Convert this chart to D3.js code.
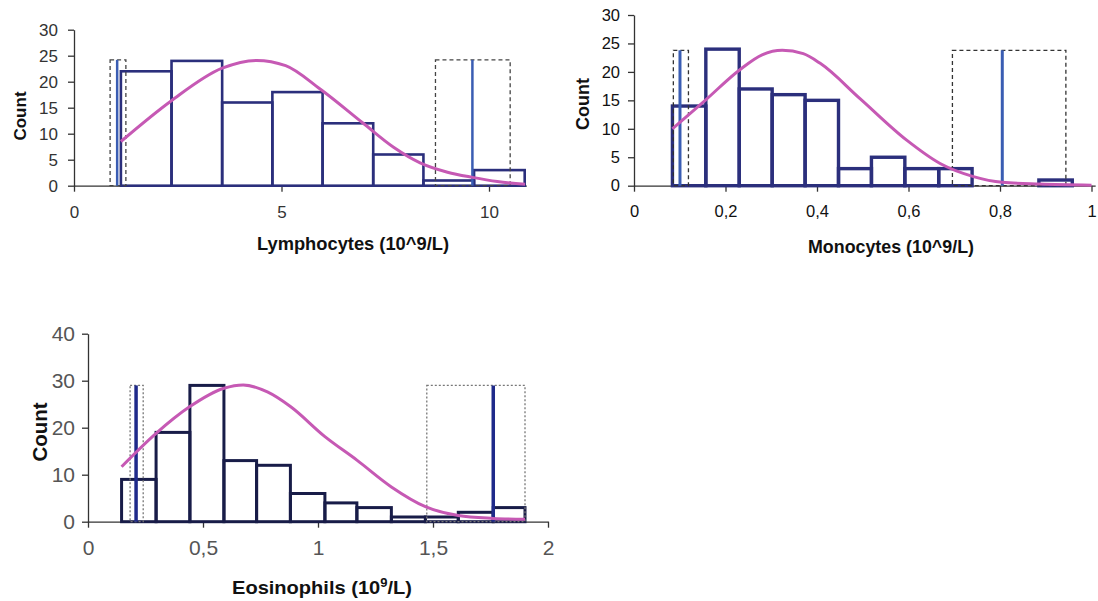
<!DOCTYPE html>
<meta charset="utf-8">
<style>
body { margin: 0; background: #fff; }
svg { display: block; }
.axis path, .axis line { stroke: #333; stroke-width: 1.3; }
.axis text { font-family: Arial, "Liberation Sans", sans-serif; }
.title { font-family: Arial, "Liberation Sans", sans-serif; font-weight: bold; fill: #111; }
</style>
<body>
<script src="https://d3js.org/d3.v7.min.js"></script>
<script>

// ---- Lymphocytes ----
var lymphEdges  = [1.13, 2.35, 3.57, 4.78, 5.99, 7.21, 8.42, 9.64, 10.86];
var lymphCounts = [22, 24, 16, 18, 12, 6, 1, 3];
var lymphCurve  = [[1.13, 8.5], [2.34, 16.3], [3.57, 22.6], [4.4, 24.1], [5.1, 23.1],
                   [5.93, 18.6], [6.97, 12], [7.7, 7.4], [8.34, 4.4], [9, 2.6], [9.6, 1.6], [10.2, 0.8], [10.87, 0.3]];
var lymphBoxes  = [[0.87, 1.25], [8.71, 10.51]];
var lymphLines  = [1.04, 9.6];
var lymphBoxTop = 24.2;
var lymphXTicks = [0, 5, 10];
var lymphYTicks = [0, 5, 10, 15, 20, 25, 30];

// ---- Monocytes ----
var monoEdges  = [0.084, 0.157, 0.230, 0.302, 0.374, 0.447, 0.519, 0.592, 0.666, 0.739, 0.812, 0.885, 0.958];
var monoCounts = [14, 24, 17, 16, 15, 3, 5, 3, 3, 0, 0, 1];
var monoCurve  = [[0.084, 10], [0.157, 15.1], [0.23, 20.3], [0.28, 23], [0.324, 23.8], [0.37, 23.2], [0.407, 21.5],
                  [0.494, 15.3], [0.596, 8], [0.669, 3.9], [0.742, 1.6],
                  [0.805, 0.6], [0.887, 0.3], [1.0, 0.1]];
var monoBoxes  = [[0.086, 0.119], [0.696, 0.944]];
var monoLines  = [0.1005, 0.805];
var monoBoxTop = 23.8;
var monoXTicks = [0, 0.2, 0.4, 0.6, 0.8, 1];
var monoYTicks = [0, 5, 10, 15, 20, 25, 30];

// ---- Eosinophils ----
var eosEdges  = [0.146, 0.296, 0.443, 0.591, 0.733, 0.880, 1.03, 1.169, 1.319, 1.467, 1.61, 1.762, 1.9];
var eosCounts = [9, 19, 29, 13, 12, 6, 4, 3, 1, 1, 2, 3];
var eosCurve  = [[0.146, 11.7], [0.296, 18.8], [0.443, 24.5], [0.591, 28.4], [0.675, 29.1], [0.78, 27.6],
                 [0.88, 24.5], [1.03, 18.1], [1.169, 13.1], [1.319, 7.4], [1.467, 3.2], [1.61, 1.3],
                 [1.762, 0.7], [1.9, 0.5]];
var eosBoxes  = [[0.183, 0.240], [1.473, 1.9]];
var eosLines  = [0.209, 1.762];
var eosBoxTop = 29;
var eosXTicks = [0, 0.5, 1, 1.5, 2];
var eosYTicks = [0, 10, 20, 30, 40];

var svg = d3.select("body").append("svg")
    .attr("width", 1098)
    .attr("height", 601);

var comma = function(d) { return String(d).replace(".", ","); };

function drawHist(o) {
    var x = d3.scaleLinear().domain([0, o.xMax]).range([o.x0, o.x0 + o.xMax * o.pxPerUnit]);
    var y = d3.scaleLinear().domain([0, o.yMax]).range([o.y0, o.yTop]);
    var g = svg.append("g");

    // axes
    g.append("g").attr("class", "axis")
        .attr("transform", "translate(0," + o.y0 + ")")
        .call(d3.axisBottom(x).tickValues(o.xTicks).tickFormat(comma).tickSize(6).tickSizeOuter(0).tickPadding(o.xPad))
        .selectAll("text").attr("font-size", o.font).attr("fill", o.tickColor);
    g.append("g").attr("class", "axis")
        .attr("transform", "translate(" + o.x0 + ",0)")
        .call(d3.axisLeft(y).tickValues(o.yTicks).tickSize(6).tickSizeOuter(0).tickPadding(o.yPad))
        .selectAll("text").attr("font-size", o.font).attr("fill", o.tickColor);

    // histogram bars
    g.selectAll("rect.bar")
        .data(o.counts)
        .enter().append("rect")
        .attr("class", "bar")
        .attr("x", function(d, i) { return x(o.edges[i]); })
        .attr("width", function(d, i) { return x(o.edges[i + 1]) - x(o.edges[i]); })
        .attr("y", function(d) { return y(d); })
        .attr("height", function(d) { return y(0) - y(d); })
        .attr("fill", "none")
        .attr("stroke", o.barColor)
        .attr("stroke-width", o.barWidth);

    // reference boxes (dashed)
    g.selectAll("rect.box")
        .data(o.boxes)
        .enter().append("rect")
        .attr("class", "box")
        .attr("x", function(d) { return x(d[0]); })
        .attr("width", function(d) { return x(d[1]) - x(d[0]); })
        .attr("y", y(o.boxTop))
        .attr("height", y(0) - y(o.boxTop))
        .attr("fill", "none")
        .attr("stroke", o.boxColor)
        .attr("stroke-width", 1.3)
        .attr("stroke-dasharray", o.dash);

    // vertical lines
    g.selectAll("line.ref")
        .data(o.lines)
        .enter().append("line")
        .attr("class", "ref")
        .attr("x1", function(d) { return x(d); })
        .attr("x2", function(d) { return x(d); })
        .attr("y1", y(0))
        .attr("y2", y(o.boxTop))
        .attr("stroke", o.lineColor)
        .attr("stroke-width", o.lineWidth);

    // fitted curve
    g.append("path")
        .datum(o.curve)
        .attr("fill", "none")
        .attr("stroke", "#c659b4")
        .attr("stroke-width", 3)
        .attr("d", d3.line()
            .x(function(d) { return x(d[0]); })
            .y(function(d) { return y(d[1]); })
            .curve(d3.curveMonotoneX));

    // labels
    g.append("text").attr("class", "title")
        .attr("transform", "translate(" + o.yLab[0] + "," + o.yLab[1] + ") rotate(-90)")
        .attr("text-anchor", "middle")
        .attr("font-size", o.countFont)
        .text("Count");
    var xl = g.append("text").attr("class", "title")
        .attr("x", o.xLab[0]).attr("y", o.xLab[1])
        .attr("text-anchor", "middle")
        .attr("font-size", o.titleFont)
        .attr("textLength", o.xLab[2])
        .attr("lengthAdjust", "spacingAndGlyphs");
    xl.append("tspan").text(o.xTitle[0]);
    if (o.xTitle.length > 1) {
        xl.append("tspan").attr("dy", -7).attr("font-size", o.titleFont * 0.65).text(o.xTitle[1]);
        xl.append("tspan").attr("dy", 7).text(o.xTitle[2]);
    }
}

drawHist({
    edges: lymphEdges, counts: lymphCounts, curve: lymphCurve, boxes: lymphBoxes, lines: lymphLines,
    boxTop: lymphBoxTop, xTicks: lymphXTicks, yTicks: lymphYTicks,
    xMax: 10.9, yMax: 30, x0: 74, pxPerUnit: 41.5, y0: 185.7, yTop: 29.7,
    font: 17, tickColor: "#333", xPad: 14, yPad: 10,
    barColor: "#2b2f7c", barWidth: 2.6, boxColor: "#444", dash: "4,3",
    lineColor: "#3a5db3", lineWidth: 2.5,
    countFont: 17, titleFont: 18, yLab: [26, 116], xLab: [353, 250, 192], xTitle: ["Lymphocytes  (10^9/L)"]
});

drawHist({
    edges: monoEdges, counts: monoCounts, curve: monoCurve, boxes: monoBoxes, lines: monoLines,
    boxTop: monoBoxTop, xTicks: monoXTicks, yTicks: monoYTicks,
    xMax: 1.008, yMax: 30, x0: 634, pxPerUnit: 457.5, y0: 185.7, yTop: 15,
    font: 16.5, tickColor: "#111", xPad: 14, yPad: 8,
    barColor: "#2b2f7c", barWidth: 3.4, boxColor: "#333", dash: "4,3",
    lineColor: "#3a5db3", lineWidth: 3,
    countFont: 18, titleFont: 17.5, yLab: [589, 104], xLab: [891, 253, 166], xTitle: ["Monocytes (10^9/L)"]
});

drawHist({
    edges: eosEdges, counts: eosCounts, curve: eosCurve, boxes: eosBoxes, lines: eosLines,
    boxTop: eosBoxTop, xTicks: eosXTicks, yTicks: eosYTicks,
    xMax: 2, yMax: 40, x0: 88, pxPerUnit: 230, y0: 521.7, yTop: 333.7,
    font: 21, tickColor: "#555", xPad: 12, yPad: 7,
    barColor: "#181c48", barWidth: 3, boxColor: "#777", dash: "2,2",
    lineColor: "#1f2a8a", lineWidth: 3.5,
    countFont: 20.5, titleFont: 18.5, yLab: [47, 432], xLab: [322, 594, 180], xTitle: ["Eosinophils (10", "9", "/L)"]
});

</script>
</body>
